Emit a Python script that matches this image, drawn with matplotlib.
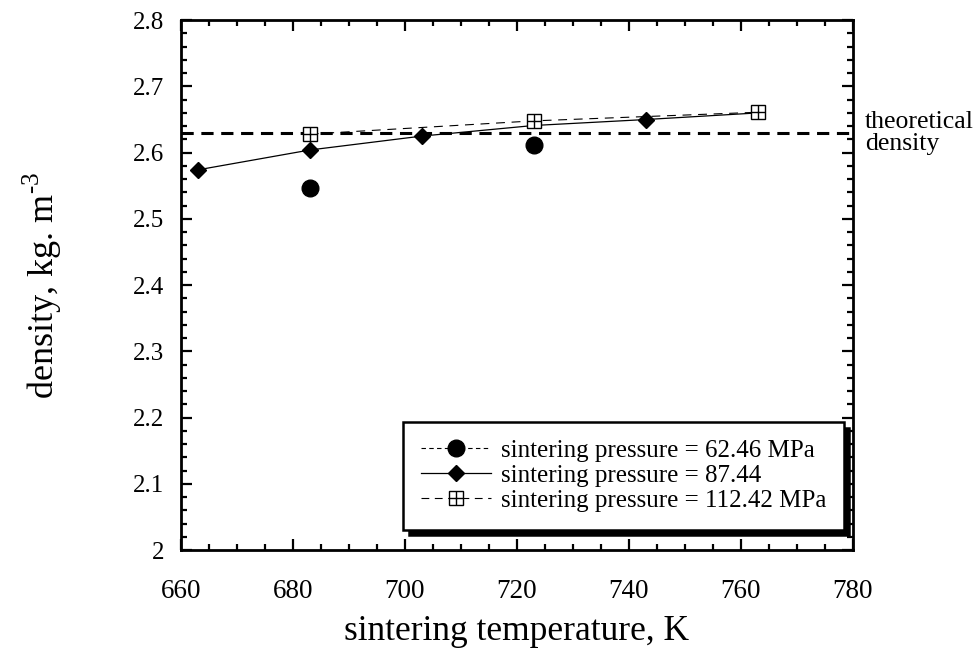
import matplotlib.pyplot as plt
from matplotlib.lines import Line2D
from matplotlib.legend_handler import HandlerTuple
from matplotlib.ticker import MultipleLocator

# data
temp_6246 = [683, 723]
dens_6246 = [2.547, 2.611]

temp_8744 = [663, 683, 703, 723, 743, 763]
dens_8744 = [2.574, 2.604, 2.625, 2.641, 2.650, 2.660]

temp_11242 = [683, 723, 763]
dens_11242 = [2.628, 2.648, 2.661]

theoretical = 2.629

labels = ['sintering pressure = 62.46 MPa',
          'sintering pressure = 87.44',
          'sintering pressure = 112.42 MPa']

plt.rcParams['font.family'] = ['Liberation Serif', 'DejaVu Serif']
plt.rcParams['mathtext.fontset'] = 'custom'
plt.rcParams['mathtext.rm'] = 'Liberation Serif'

fig = plt.figure(figsize=(9.78, 6.51), dpi=100)
ax = fig.add_axes([0.185, 0.155, 0.687, 0.814])

# theoretical density
ax.axhline(theoretical, color='black', lw=2.2, ls=(0, (4, 2.5)), zorder=2)

# 62.46 MPa: circles only in the plot
ax.plot(temp_6246, dens_6246, ls='none', marker='o', ms=12, color='black', zorder=4)

# 87.44: solid line with diamonds
ax.plot(temp_8744, dens_8744, color='black', lw=0.9, marker='D', ms=8.5,
        markevery=[0, 1, 2, 4], zorder=3)

# 112.42 MPa: long dashes with crossed squares
ax.plot(temp_11242, dens_11242, color='black', lw=0.8, ls=(0, (8, 6)), zorder=3)
ax.plot(temp_11242, dens_11242, ls='none', marker='s', ms=10.5, mfc='white',
        mec='black', mew=1.0, zorder=5)
ax.plot(temp_11242, dens_11242, ls='none', marker='+', ms=10.5, color='black',
        mew=1.0, zorder=6)

ax.set_xlim(660, 780)
ax.set_ylim(2.0, 2.8)
ax.xaxis.set_major_locator(MultipleLocator(20))
ax.xaxis.set_minor_locator(MultipleLocator(5))
ax.yaxis.set_minor_locator(MultipleLocator(0.02))
ax.set_yticks([2.0, 2.1, 2.2, 2.3, 2.4, 2.5, 2.6, 2.7, 2.8])
ax.set_yticklabels(['2', '2.1', '2.2', '2.3', '2.4', '2.5', '2.6', '2.7', '2.8'])

ax.tick_params(which='both', direction='in', top=True, right=True, width=1.6)
ax.tick_params(which='major', length=8)
ax.tick_params(which='minor', length=4)
ax.tick_params(axis='x', which='major', pad=21, labelsize=19.5)
ax.tick_params(axis='y', which='major', pad=12, labelsize=18)
for s in ax.spines.values():
    s.set_linewidth(2)

ax.set_xlabel('sintering temperature, K', fontsize=25.5, labelpad=8)
ax.set_ylabel(r'density, kg. m$^{\text{-3}}$', fontsize=26, labelpad=50)

ax.text(1.018, theoretical, 'theoretical\ndensity', transform=ax.get_yaxis_transform(),
        fontsize=18.5, va='center', ha='left', linespacing=1.0)

# legend handles
h1 = Line2D([], [], color='black', lw=0.8, ls=(0, (4, 3)), marker='o', ms=12)
h2 = Line2D([], [], color='black', lw=0.9, marker='D', ms=8.5)
h3a = Line2D([], [], color='black', lw=0.8, ls=(0, (7, 5)), marker='s', ms=10.5,
             mfc='white', mec='black', mew=1.0)
h3b = Line2D([], [], ls='none', marker='+', ms=10.5, color='black', mew=1.0)
leg = ax.legend([h1, h2, (h3a, h3b)], labels, loc='lower right',
                bbox_to_anchor=(1.005, 0.015), fontsize=18, frameon=True,
                fancybox=False, edgecolor='black', framealpha=1,
                handlelength=2.8, handletextpad=0.4, labelspacing=0.1,
                borderpad=0.7, handler_map={tuple: HandlerTuple(ndivide=1, pad=0)},
                shadow={'color': 'black', 'alpha': 1, 'ox': 4, 'oy': -4})
leg.get_frame().set_linewidth(1.8)

fig.savefig('out.png', dpi=100)
